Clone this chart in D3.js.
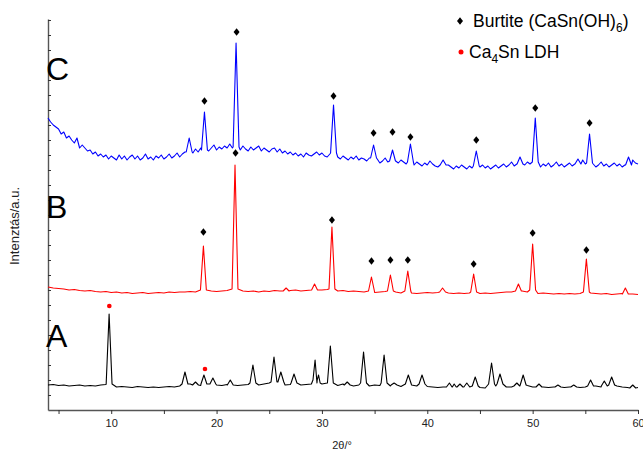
<!DOCTYPE html>
<html>
<head>
<meta charset="utf-8">
<script src="https://cdn.jsdelivr.net/npm/d3@7"></script>
<style>
    body { margin: 0; background: #fff; }
    text { font-family: "Liberation Sans", Arial, sans-serif; }
</style>
</head>
<body>
<div id="xrd"></div>
<script>
// 2theta axis
var x_start = 4, x_end = 60;
var x_ticks = [5, 10, 15, 20, 25, 30, 35, 40, 45, 50, 55, 60];

// baseline intensities from 4 to 60 deg (a.u., curves already stacked)
// A and B: one value every 0.5 deg
var base_A = [25, 25.5, 24.5, 25, 24, 24.5, 25, 24, 24.5, 24, 25, 25.5,
    24, 23, 23.5, 23, 22.5, 23.5, 23, 22.5, 23, 22.5, 23, 23.5, 23, 24,
    25, 26, 25, 24.5, 25, 25.5, 25, 24.5, 25.5, 25, 24.5, 25,
    25.5, 26, 25, 26, 27, 26, 25.5, 25, 25.5, 26, 25, 25.5, 26, 27,
    26, 27, 25, 24.5, 26, 25, 24, 25, 25.5, 24, 25, 24.5,
    25, 24, 24.5, 23.5, 24, 25, 24, 23, 23.5, 23, 22.5, 23,
    22.5, 22, 23, 22.5, 23, 22, 22.5, 22, 23, 24, 25, 23,
    23, 22.5, 24, 24.5, 23, 22.5, 23, 22.5, 23, 23.5, 22.5, 23,
    23.5, 22.5, 23, 23.5, 24, 23, 22.5, 23, 24, 23, 22.5, 22, 22.5];

var base_B = [123, 122, 121.5, 121, 120, 120.5, 119.5, 119, 119.5, 118.5, 118, 118.5,
    117.5, 118, 117, 117.5, 116.5, 117, 117.5, 116.5, 117, 117.5, 117, 118, 117.5, 118,
    118, 118.5, 118, 119, 118.5, 119, 118.5, 119, 119.5, 119, 120, 119,
    118.5, 119, 118, 119, 118.5, 119.5, 119, 120, 119.5, 120, 119, 119.5, 120, 120.5,
    120, 120.5, 119.5, 119, 119.5, 118.5, 119, 118.5, 118, 118.5, 117.5, 118,
    118.5, 117.5, 118, 117, 117.5, 117, 116.5, 117, 117.5, 117, 117.5, 118,
    117, 116.5, 117, 116.5, 117, 116, 116.5, 117, 116.5, 117, 117.5, 118,
    118, 118.5, 119, 118, 117, 116.5, 117, 116.5, 116, 116.5, 116, 116.5,
    116, 116.5, 116, 117, 116.5, 116, 116.5, 115.5, 116, 116.5, 115.5, 116, 115.5];

// C is noisier: one value every 0.25 deg
var base_C = [292, 288, 285, 283, 281, 276, 278, 272, 274, 270, 267, 272, 262, 265, 262, 259, 260, 256, 258, 254,
    256, 253, 255, 251, 254, 252, 250, 255, 251, 254, 250, 253, 255, 251, 254, 250, 252, 256, 251, 253,
    250, 254, 252, 255, 251, 253, 256, 252, 254, 257, 253, 256, 258, 255, 259, 257, 261, 258, 262, 259,
    263, 259, 262, 265, 260, 263, 261, 264, 262, 266, 262, 265, 263, 260, 264, 261, 259, 263, 260, 262,
    264, 259, 262, 260, 258, 261, 262, 258, 261, 257, 259, 256, 258, 255, 257, 254, 256, 253, 257, 255,
    254, 256, 258, 255, 257, 254, 253, 256, 252, 255, 253, 251, 254, 252, 250, 253, 251, 254, 250, 252,
    251, 249, 252, 250, 248, 251, 247, 249, 252, 248, 250, 246, 249, 247, 250, 248, 246, 249, 247, 245,
    248, 246, 244, 247, 245, 249, 246, 244, 243, 246, 244, 242, 245, 243, 241, 244, 242, 245, 243, 241,
    244, 242, 245, 247, 243, 245, 242, 244, 241, 243, 245, 242, 244, 246, 243, 245, 248, 244, 246, 249,
    247, 245, 248, 246, 249, 247, 245, 243, 246, 244, 247, 243, 245, 248, 244, 246, 243, 245, 247, 244,
    246, 249, 247, 250, 246, 248, 244, 246, 243, 245, 248, 244, 246, 243, 245, 247, 244, 246, 243, 245,
    247, 244, 250, 247, 246];

// reflections: [2theta, top, foot, half width (optional)]
var peaks_A = [[9.8, 96, 26], [17.0, 38, 26], [18.0, 28, 25], [18.8, 35, 26], [19.65, 32, 26],
    [21.3, 30, 25], [23.45, 45, 27], [25.45, 53, 28], [26.1, 38, 28], [27.35, 36, 27],
    [29.35, 50, 30, 0.2], [29.68, 35, 27, 0.15], [30.8, 64, 27], [32.4, 28, 25], [33.95, 58, 27],
    [35.9, 55, 27], [36.85, 27, 25], [38.2, 35, 26], [39.5, 35, 26], [42.1, 27, 23],
    [42.55, 26, 23, 0.2], [43.1, 26, 23], [43.75, 27, 23], [44.55, 33, 24], [46.1, 47, 26],
    [46.9, 36, 26], [48.5, 27, 24], [49.1, 35, 25], [50.6, 26, 23], [52.4, 25, 23],
    [53.9, 25, 23], [55.5, 30, 24], [56.8, 29, 24], [57.5, 33, 25], [59.5, 25, 22]];

var peaks_B = [[18.75, 164, 120], [21.75, 245, 121], [26.6, 122, 119], [29.3, 126, 120],
    [30.95, 183, 121], [34.7, 133, 119], [36.5, 135, 119], [38.15, 139, 119], [41.45, 122, 118],
    [44.4, 136, 118], [48.65, 126, 119], [50.0, 166, 120], [55.1, 151, 118], [58.8, 122, 116]];

var peaks_C = [[17.4, 272, 258], [18.85, 298, 260], [21.85, 367, 263], [31.1, 305, 257],
    [34.9, 265, 252], [36.7, 260, 249], [38.4, 266, 248], [41.5, 250, 245], [44.65, 259, 244],
    [48.8, 253, 246], [50.25, 292, 248], [54.3, 251, 246], [55.4, 276, 247], [59.1, 253, 245]];

// phase markers [2theta, intensity]
var burtite_B = [[18.75, 178], [21.8, 257], [30.95, 190], [34.7, 149], [36.5, 150],
    [38.15, 150], [44.4, 146], [50.0, 177], [55.1, 160]];
var burtite_C = [[18.85, 309], [21.9, 378], [31.1, 314], [34.9, 277], [36.7, 278],
    [38.4, 273], [44.65, 270], [50.25, 302], [55.4, 287]];
var ldh_A = [[9.82, 104], [18.9, 41]];

var sample_labels = [["C", 330], ["B", 192], ["A", 63]];
var colors = {A: "#000000", B: "#ff0000", C: "#0000ff"};

// baseline + reflections -> sorted point list
function build_trace(base, step, peaks){
    var hw_def = 0.28;
    var pts = [];
    for (var i = 0; i < base.length; i ++){
        var xx = x_start + i * step;
        var hit = peaks.some(function(p){ return Math.abs(p[0] - xx) <= (p[3] || hw_def); });
        if (!hit) pts.push([xx, base[i]]);
    }
    peaks.forEach(function(p){
        var hw = p[3] || hw_def;
        pts.push([p[0] - hw, p[2]]);
        pts.push([p[0], p[1]]);
        pts.push([p[0] + hw, p[2]]);
    });
    pts.sort(function(a, b){ return a[0] - b[0]; });
    return pts;
}

var width = 643, height = 449;
var svg = d3.select("#xrd").append("svg")
    .attr("width", width)
    .attr("height", height);

var x = d3.scaleLinear().domain([x_start, x_end]).range([48, 638]);
var y = d3.scaleLinear().domain([0, 391]).range([410, 19]);

var line = d3.line()
    .x(function(d){ return x(d[0]); })
    .y(function(d){ return y(d[1]); });

// axes
var xAxis = svg.append("g")
    .attr("transform", "translate(0," + y(0) + ")")
    .call(d3.axisBottom(x)
        .tickValues(x_ticks)
        .tickSizeInner(4)
        .tickSizeOuter(0)
        .tickFormat(function(d){ return d % 10 === 0 ? d : ""; }));
xAxis.selectAll("text").style("font-size", "11px").attr("fill", "#222").attr("dy", "0.9em");

var yAxis = svg.append("g")
    .attr("transform", "translate(" + x(x_start) + ",0)")
    .call(d3.axisLeft(y)
        .tickValues(d3.range(15, 391, 15))
        .tickSizeInner(-3)
        .tickSizeOuter(0)
        .tickFormat(""));

svg.selectAll(".domain").attr("stroke", "#555").attr("stroke-width", 1.4);
svg.selectAll(".tick line").attr("stroke", "#333");

svg.append("text")
    .attr("x", 342)
    .attr("y", 449)
    .attr("text-anchor", "middle")
    .style("font-size", "11px")
    .attr("fill", "#222")
    .text("2θ/°");

svg.append("text")
    .attr("transform", "translate(19,226) rotate(-90)")
    .attr("text-anchor", "middle")
    .style("font-size", "13px")
    .attr("fill", "#222")
    .text("Intenztás/a.u.");

// patterns
var traces = [["A", base_A, 0.5, peaks_A], ["B", base_B, 0.5, peaks_B], ["C", base_C, 0.25, peaks_C]];
traces.forEach(function(t){
    svg.append("path")
        .datum(build_trace(t[1], t[2], t[3]))
        .attr("d", line)
        .attr("fill", "none")
        .attr("stroke", colors[t[0]])
        .attr("stroke-width", 1.1)
        .attr("stroke-linejoin", "round");
});

// sample letters
svg.selectAll(".lab")
    .data(sample_labels)
    .enter().append("text")
    .attr("x", 46)
    .attr("y", function(d){ return y(d[1]); })
    .style("font-size", "32px")
    .text(function(d){ return d[0]; });

function diamond(cx, cy){
    return "M" + cx + "," + (cy - 3.8) + "L" + (cx + 3) + "," + cy +
        "L" + cx + "," + (cy + 3.8) + "L" + (cx - 3) + "," + cy + "Z";
}

svg.selectAll(".dia")
    .data(burtite_B.concat(burtite_C))
    .enter().append("path")
    .attr("d", function(d){ return diamond(x(d[0]), y(d[1])); })
    .attr("fill", "#000");

svg.selectAll(".dot")
    .data(ldh_A)
    .enter().append("circle")
    .attr("cx", function(d){ return x(d[0]); })
    .attr("cy", function(d){ return y(d[1]); })
    .attr("r", 2.3)
    .attr("fill", "#ff0000");

// legend
svg.append("path").attr("d", diamond(460, 21)).attr("fill", "#000");
var l1 = svg.append("text").attr("x", 473).attr("y", 27).style("font-size", "17.5px");
l1.append("tspan").text("Burtite (CaSn(OH)");
l1.append("tspan").attr("dy", 5).style("font-size", "12px").text("6");
l1.append("tspan").attr("dy", -5).text(")");

svg.append("circle").attr("cx", 461).attr("cy", 52).attr("r", 2.5).attr("fill", "#ff0000");
var l2 = svg.append("text").attr("x", 469).attr("y", 58).style("font-size", "17.5px");
l2.append("tspan").text("Ca");
l2.append("tspan").attr("dy", 5).style("font-size", "12px").text("4");
l2.append("tspan").attr("dy", -5).text("Sn LDH");
</script>
</body>
</html>
